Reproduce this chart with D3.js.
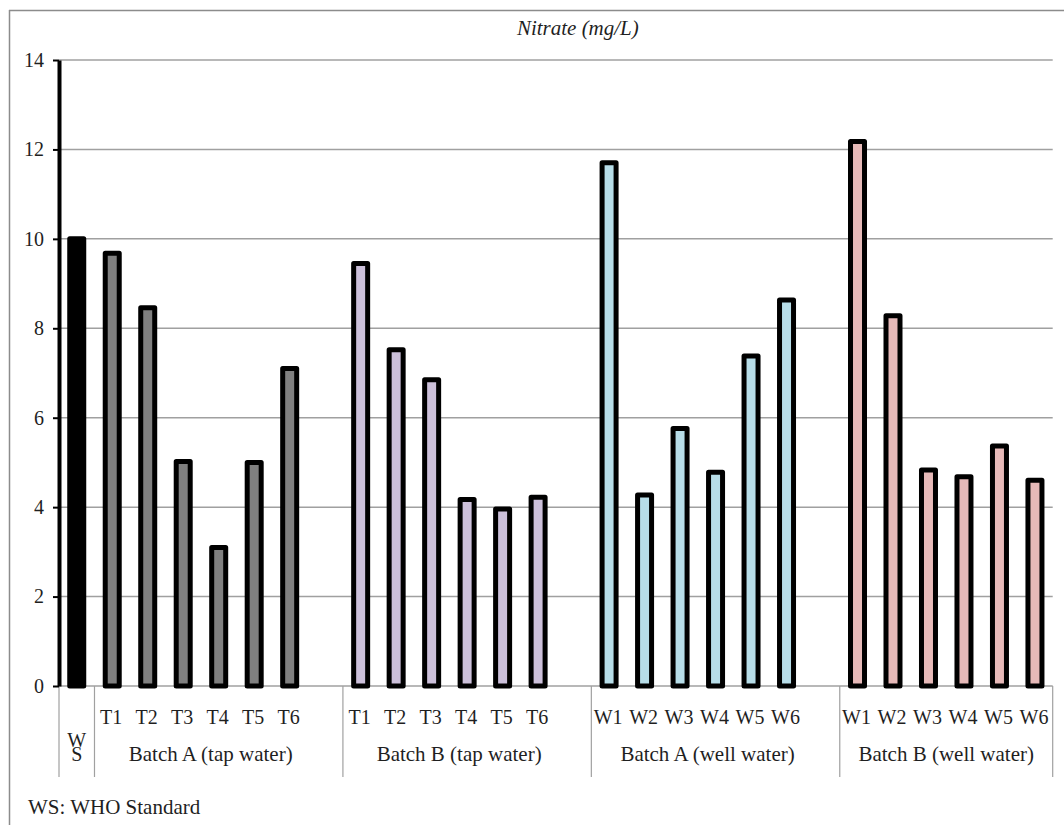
<!DOCTYPE html>
<html>
<head>
<meta charset="utf-8">
<script src="https://cdn.jsdelivr.net/npm/d3@7"></script>
<style>
  html, body { margin: 0; padding: 0; background: #fff; }
  svg { display: block; }
  text { font-family: "Liberation Serif", "Times New Roman", serif; fill: #1f1f1f; }
</style>
</head>
<body>
<svg id="chart" width="1064" height="825"></svg>
<script>
// ---------------- data ----------------
const chartTitle = "Nitrate (mg/L)";
const footnote = "WS: WHO Standard";
const yTicks = [0, 2, 4, 6, 8, 10, 12, 14];
const wsLabel = ["W", "S"];
const wsValue = [10];
const groupNames = ["Batch A (tap water)", "Batch B (tap water)", "Batch A (well water)", "Batch B (well water)"];
const tapLabels = ["T1", "T2", "T3", "T4", "T5", "T6"];
const wellLabels = ["W1", "W2", "W3", "W4", "W5", "W6"];
const batchATap = [9.68, 8.46, 5.02, 3.1, 5.0, 7.1];
const batchBTap = [9.45, 7.52, 6.85, 4.17, 3.96, 4.22];
const batchAWell = [11.7, 4.27, 5.76, 4.78, 7.38, 8.63];
const batchBWell = [12.18, 8.28, 4.83, 4.68, 5.37, 4.6];
const groupColors = ["#808080", "#ccc0da", "#b7dde8", "#e6b9b8"];
const wsColor = "#000000";

// ---------------- build categories ----------------
const groupValues = [batchATap, batchBTap, batchAWell, batchBWell];
const groupLabels = [tapLabels, tapLabels, wellLabels, wellLabels];
const cats = [];
cats.push({ id: "ws", group: -1, label: "", value: wsValue[0], color: wsColor });
groupNames.forEach((g, gi) => {
  groupValues[gi].forEach((v, i) => {
    cats.push({ id: "g" + gi + "_" + i, group: gi, label: groupLabels[gi][i], value: v, color: groupColors[gi] });
  });
  if (gi < groupNames.length - 1) cats.push({ id: "blank" + gi, group: gi, label: "", value: null });
});

// ---------------- layout ----------------
const svg = d3.select("#chart");
const W = 1064, H = 825;
const plot = { left: 59, right: 1052.7, top: 60, bottom: 686 };
const gridColor = "#a0a0a0";

const x = d3.scaleBand().domain(cats.map(d => d.id)).range([plot.left, plot.right]).padding(0);
const y = d3.scaleLinear().domain([0, 14]).range([plot.bottom, plot.top]);
const step = x.step();

// outer border (top and left visible)
svg.append("line").attr("x1", 9).attr("x2", W).attr("y1", 10.5).attr("y2", 10.5)
  .attr("stroke", "#8c8c8c").attr("stroke-width", 1.5);
svg.append("line").attr("x1", 9.5).attr("x2", 9.5).attr("y1", 10).attr("y2", H)
  .attr("stroke", "#8c8c8c").attr("stroke-width", 1.5);

// title
svg.append("text").attr("x", (plot.left + plot.right) / 2 + 22).attr("y", 35)
  .attr("text-anchor", "middle").attr("font-size", 21).attr("font-style", "italic")
  .text(chartTitle);

// gridlines
svg.append("g").selectAll("line").data(yTicks.filter(t => t > 0)).join("line")
  .attr("x1", plot.left).attr("x2", plot.right)
  .attr("y1", d => y(d)).attr("y2", d => y(d))
  .attr("stroke", gridColor).attr("stroke-width", 1.5);

// category axis line
svg.append("line").attr("x1", plot.left).attr("x2", plot.right)
  .attr("y1", y(0)).attr("y2", y(0)).attr("stroke", gridColor).attr("stroke-width", 1.5);

// group separators
const sepBottom = 777;
const groupStarts = [x("ws")];
groupNames.forEach((g, gi) => groupStarts.push(x("g" + gi + "_0")));
groupStarts.push(plot.right);
svg.append("g").selectAll("line").data(groupStarts).join("line")
  .attr("x1", d => d).attr("x2", d => d)
  .attr("y1", y(0)).attr("y2", sepBottom)
  .attr("stroke", gridColor).attr("stroke-width", 1.2);

// sample labels
svg.append("g").selectAll("text").data(cats.filter(d => d.label)).join("text")
  .attr("x", d => x(d.id) + step / 2 - 1).attr("y", 724)
  .attr("text-anchor", "middle").attr("font-size", 20)
  .text(d => d.label);

// group labels
groupNames.forEach((g, gi) => {
  const start = groupStarts[gi + 1];
  const end = groupStarts[gi + 2];
  const hasBlank = gi < groupNames.length - 1;
  const cx = (start + end - (hasBlank ? step * 0.45 : 0)) / 2;
  svg.append("text").attr("x", cx).attr("y", 761)
    .attr("text-anchor", "middle").attr("font-size", 21).text(g);
});

// WS label stacked (one text element, two lines)
const wsCx = x("ws") + step / 2;
const wsText = svg.append("text").attr("x", wsCx).attr("y", 747)
  .attr("text-anchor", "middle").attr("font-size", 20);
wsText.selectAll("tspan").data(wsLabel).join("tspan")
  .attr("x", wsCx).attr("dy", (d, i) => i === 0 ? 0 : 14).text(d => d);

// bars
const barW = 14;
svg.append("g").selectAll("rect").data(cats.filter(d => d.value !== null)).join("rect")
  .attr("x", d => x(d.id) + step / 2 - barW / 2)
  .attr("y", d => y(d.value))
  .attr("width", barW)
  .attr("height", d => y(0) - y(d.value))
  .attr("fill", d => d.color)
  .attr("stroke", "#000").attr("stroke-width", 5).attr("stroke-linejoin", "round");

// y axis
const yAxis = d3.axisLeft(y).tickValues(yTicks).tickSize(6).tickSizeOuter(0).tickPadding(9).tickFormat(d3.format("d"));
const gy = svg.append("g").attr("transform", `translate(${plot.left},0)`).call(yAxis);
gy.select(".domain").attr("stroke", "#000").attr("stroke-width", 4);
gy.selectAll(".tick line").attr("stroke", "#000").attr("stroke-width", 2);
gy.selectAll(".tick text").attr("font-size", 20).attr("fill", "#1f1f1f")
  .attr("font-family", "Liberation Serif, Times New Roman, serif");

// footnote
svg.append("text").attr("x", 28).attr("y", 814).attr("font-size", 21).text(footnote);
</script>
</body>
</html>
